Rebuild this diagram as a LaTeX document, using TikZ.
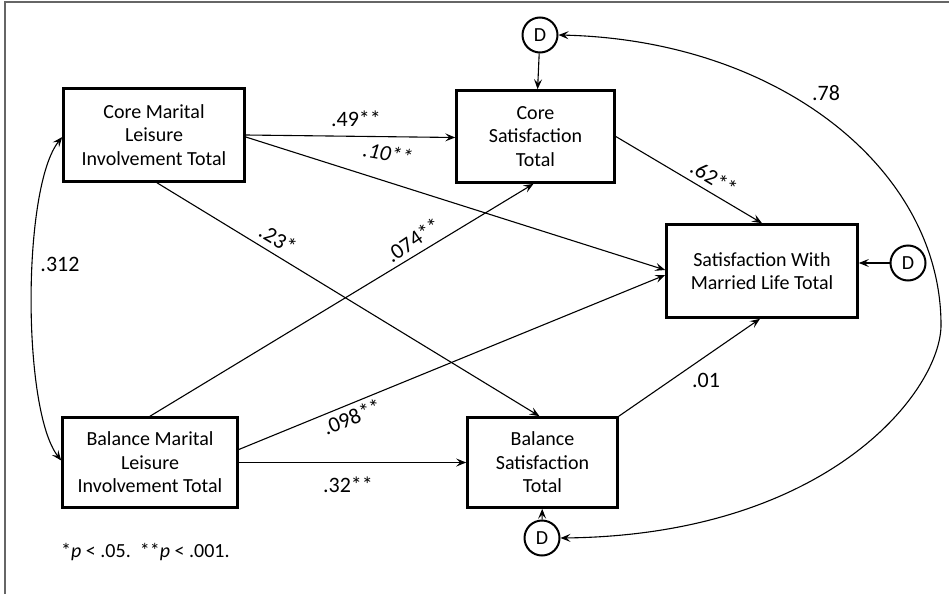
\documentclass[tikz,border=0pt]{standalone}
\usepackage{fontspec}
\setmainfont{Carlito}
\usetikzlibrary{arrows.meta,calc}
\begin{document}
\begin{tikzpicture}[x=1pt,y=-1pt,
 box/.style={draw,line width=2.6pt,align=center,font=\fontsize{20}{23.5}\selectfont,inner sep=0pt},
 dist/.style={draw,circle,line width=2pt,minimum size=35pt,inner sep=0pt,font=\fontsize{20}{22}\selectfont},
 tip/.style={Stealth[length=10pt,width=8pt,inset=4pt]},
 arr/.style={line width=1.1pt,-{Stealth[length=10pt,width=8pt,inset=4pt]}},
 darr/.style={line width=1.1pt,{Stealth[length=10pt,width=8pt,inset=4pt]}-{Stealth[length=10pt,width=8pt,inset=4pt]}},
 lab/.style={font=\fontsize{22}{24}\selectfont,inner sep=0pt},
 frame/.style={draw=black!60,line width=2pt}]
\useasboundingbox (0,0) rectangle (949,594);
\draw[frame] (5,594) -- (5,2) -- (949,2);

% boxes
\node[box,minimum width=181pt,minimum height=93pt] (cm) at (154,135) {Core Marital\\Leisure\\Involvement Total};
\node[box,minimum width=158pt,minimum height=92pt] (cs) at (535.5,136.5) {Core\\Satisfaction\\Total};
\node[box,minimum width=191pt,minimum height=93pt] (sm) at (762,271) {Satisfaction With\\Married Life Total};
\node[box,minimum width=175pt,minimum height=90pt] (bm) at (150,462.5) {Balance Marital\\Leisure\\Involvement Total};
\node[box,minimum width=150pt,minimum height=90pt] (bs) at (542.5,462.5) {Balance\\Satisfaction\\Total};

% disturbances
\node[dist] (dT) at (540,35) {D};
\node[dist] (dR) at (908,263) {D};
\node[dist] (dB) at (542,538) {D};
\coordinate (cr) at (941,325);

% paths
\draw[arr] (cm.east) -- ([yshift=-1pt]cs.west);
\draw[arr] ([yshift=-2pt]cm.east) -- ([yshift=1pt]sm.west);
\draw[arr] ([xshift=3pt]cm.south) -- ([xshift=-3pt]bs.north);
\draw[arr] (bm.north) -- ([xshift=-2pt]cs.south);
\draw[arr] ([yshift=13pt]bm.east) -- ([yshift=-4pt]sm.west);
\draw[arr] (bm.east) -- (bs.west);
\draw[arr] (bs.north east) -- ([xshift=-2pt]sm.south);
\draw[arr] (cs.east) -- (sm.north);
\draw[arr] (dT) -- (cs);
\draw[arr] (dR) -- (dR -| sm.east);
\draw[arr] (dB) -- (bs);
\draw[darr] ([yshift=2pt]bm.west) .. controls (22,410) and (22,187) .. ([yshift=-2pt]cm.west);
\draw[line width=1.1pt,{Stealth[length=10pt,width=8pt,inset=4pt]}-] (dB.east) .. controls (830,535) and (941,390) .. (cr);
\draw[line width=1.1pt,-{Stealth[length=10pt,width=8pt,inset=4pt]}] (cr) .. controls (941,170) and (780,40) .. (dT.east);

% labels
\node[lab] (l49) at (356,119) {.49**};
\node[lab,rotate=-10] (l10) at (388,153) {\itshape .10**};
\node[lab,rotate=-31] (l62) at (714,178) {.62**};
\node[lab,rotate=-31] (l23) at (278,239) {.23*};
\node[lab,rotate=34] (l074) at (413,240) {.074**};
\node[lab,rotate=22] (l098) at (352,417) {.098**};
\node[lab] (l32) at (348,485) {.32**};
\node[lab] (l01) at (706,380) {.01};
\node[lab] (l78) at (826,93) {.78};
\node[lab] (l312) at (60,264) {.312};
\node[font=\fontsize{20}{22}\selectfont,anchor=west,inner sep=0pt] (note) at (61,552) {*\textit{p} < .05.\ \ **\textit{p} < .001.};
\end{tikzpicture}
\end{document}
